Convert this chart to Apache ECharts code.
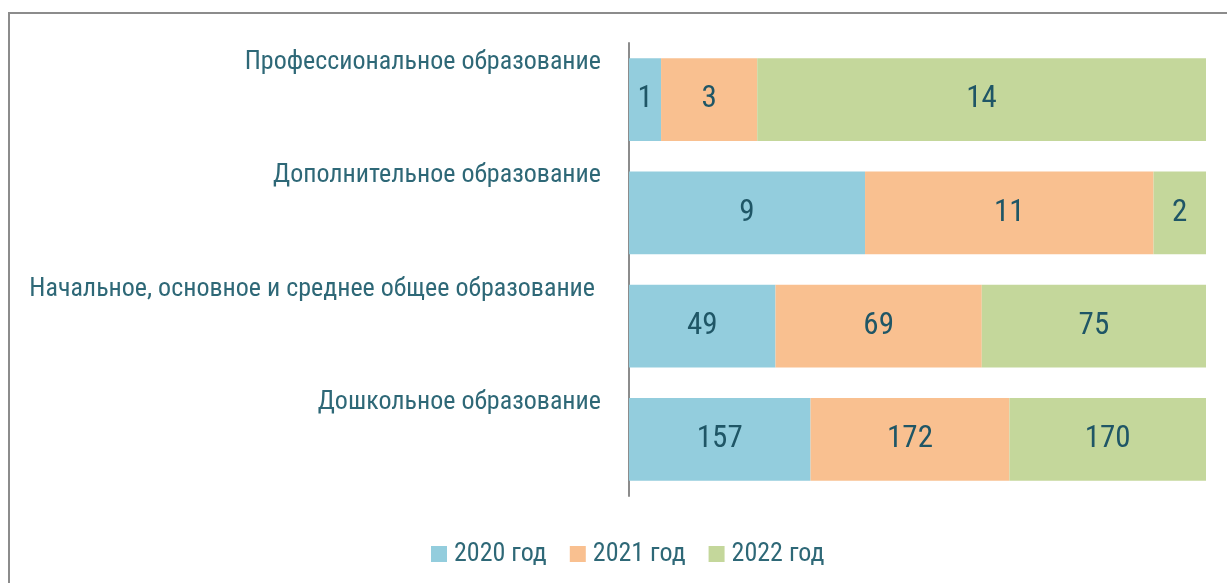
<!DOCTYPE html>
<html>
<head>
<meta charset="utf-8">
<script src="https://cdn.jsdelivr.net/npm/echarts@6/dist/echarts.min.js"></script>
<style>html,body{margin:0;padding:0;background:#fff}#c{width:1227px;height:583px}</style>
</head>
<body>
<div id="c"></div>
<script>
const categories = [
  'Дошкольное образование',
  'Начальное, основное и среднее общее образование ',
  'Дополнительное образование',
  'Профессиональное образование'
];
const seriesNames = ['2020 год', '2021 год', '2022 год'];
const values2020 = [157, 49, 9, 1];
const values2021 = [172, 69, 11, 3];
const values2022 = [170, 75, 2, 14];
const colors = ['#93CDDD', '#F9C090', '#C4D79B'];

const raw = [values2020, values2021, values2022];
const totals = categories.map((_, i) => raw.reduce((s, arr) => s + arr[i], 0));
const FONT = "'Roboto Condensed', 'Liberation Sans Narrow', 'DejaVu Sans Condensed', sans-serif";

const chart = echarts.init(document.getElementById('c'), null, {renderer: 'canvas'});
chart.setOption({
  animation: false,
  backgroundColor: '#fff',
  graphic: [{
    type: 'rect', silent: true,
    shape: {x: 9, y: 13, width: 1400, height: 800},
    style: {fill: 'none', stroke: '#8c8c8c', lineWidth: 2}
  }],
  grid: {left: 629, right: 21, top: 43, bottom: 87, containLabel: false, outerBoundsMode: 'none'},
  legend: {
    bottom: 16, left: 431, padding: 0,
    itemWidth: 16, itemHeight: 16, itemGap: 23,
    icon: 'rect',
    textStyle: {fontFamily: FONT, fontSize: 26, color: '#2E6877', padding: [0, 0, 0, 2]},
    data: seriesNames
  },
  xAxis: {type: 'value', min: 0, max: 1, show: false},
  yAxis: {
    type: 'category', data: categories,
    axisLine: {show: true, lineStyle: {color: '#8c8c8c', width: 2}},
    axisTick: {show: false},
    axisLabel: {
      margin: 28,
      formatter: v => '{a|' + v + '}\n{b|}',
      rich: {
        a: {fontFamily: FONT, fontSize: 26, color: '#2E6877', lineHeight: 30},
        b: {lineHeight: 74}
      }
    }
  },
  series: raw.map((arr, k) => ({
    name: seriesNames[k], type: 'bar', stack: 'total',
    barCategoryGap: '27%',
    itemStyle: {color: colors[k]},
    label: {
      show: true, position: 'inside',
      fontFamily: FONT, fontSize: 31, color: '#1F5666',
      formatter: p => arr[p.dataIndex]
    },
    data: arr.map((v, i) => v / totals[i])
  }))
});
</script>
</body>
</html>
